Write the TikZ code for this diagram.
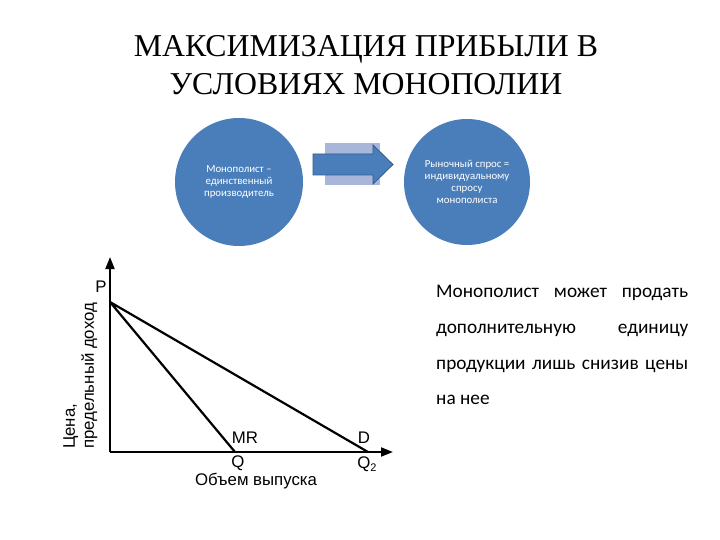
\documentclass[tikz,border=0pt]{standalone}
\usepackage{fontspec}
\setmainfont{Liberation Serif}
\newfontfamily\calfont{Carlito}
\newfontfamily\arialfont{Liberation Sans}
\usetikzlibrary{arrows.meta}
\definecolor{circblue}{HTML}{4A7EBB}
\definecolor{arrowblue}{HTML}{4A7EBB}
\definecolor{arrowedge}{HTML}{2C5A8C}
\definecolor{lavender}{HTML}{A8B7D9}
\tikzset{
  bubble/.style={circle, fill=circblue, minimum size=128pt, inner sep=0pt, text=white, align=center, font=\calfont\fontsize{10.8}{12}\selectfont},
  titleline/.style={anchor=base, font=\fontsize{31.8}{36}\selectfont},
  bodyline/.style={anchor=base west, inner sep=0pt, font=\calfont\fontsize{19.3}{22}\selectfont},
  graphlabel/.style={font=\arialfont\fontsize{16.8}{19}\selectfont, inner sep=0pt},
  axis/.style={line width=1.8pt, -{Triangle[length=12pt,width=9pt]}},
  curve/.style={line width=2.2pt}
}
\begin{document}
\begin{tikzpicture}[x=1pt,y=-1pt]
\useasboundingbox (0,0) rectangle (720,540);
% title
\node[titleline] (t1) at (366,57) {МАКСИМИЗАЦИЯ ПРИБЫЛИ В};
\node[titleline] (t2) at (366,95) {УСЛОВИЯХ МОНОПОЛИИ};
% circles
\node[bubble] (c1) at (239,182) {Монополист –\\единственный\\производитель};
\node[bubble, minimum size=126pt] (c2) at (467,182) {Рыночный спрос =\\индивидуальному\\спросу\\монополиста};
% arrow
\node[fill=lavender, minimum width=55pt, minimum height=42pt, inner sep=0pt] (bg) at (352.5,164) {};
\draw[fill=arrowblue, draw=arrowedge, line width=0.8pt]
  (313,154) -- (373,154) -- (373,145) -- (393,164.5) -- (373,184) -- (373,175) -- (313,175) -- cycle;
% graph
\coordinate (O) at (110,452);
\coordinate (ytop) at (110,257);
\coordinate (xend) at (393,452);
\coordinate (P0) at (110,302);
\coordinate (Qm) at (235,452);
\coordinate (Qd) at (368,452);
\draw[axis] (O) -- (ytop);
\draw[axis] (O) -- (xend);
\draw[curve, line join=round] (Qm) -- (P0) -- (Qd);
\node[graphlabel] (lp) at (101,287) {P};
\node[graphlabel] (lmr) at (245,438) {MR};
\node[graphlabel] (ld) at (364,438) {D};
\node[graphlabel] (lq) at (238,463) {Q};
\node[graphlabel] (lq2) at (367,464) {Q\raisebox{-3pt}{\fontsize{11}{11}\selectfont 2}};
\node[graphlabel] (lx) at (256,481) {Объем выпуска};
\node[graphlabel, rotate=90, anchor=north west, align=left] (ly) at (63,449) {Цена,\\предельный доход};
% right text
\node[bodyline] (r1) at (436,297) {\makebox[252pt][s]{Монополист\hfill может\hfill продать}};
\node[bodyline] (r2) at (436,333) {\makebox[252pt][s]{дополнительную\hfill единицу}};
\node[bodyline] (r3) at (436,369) {\makebox[252pt][s]{продукции\hfill лишь\hfill снизив\hfill цены}};
\node[bodyline] (r4) at (436,404) {на нее};
\end{tikzpicture}
\end{document}
